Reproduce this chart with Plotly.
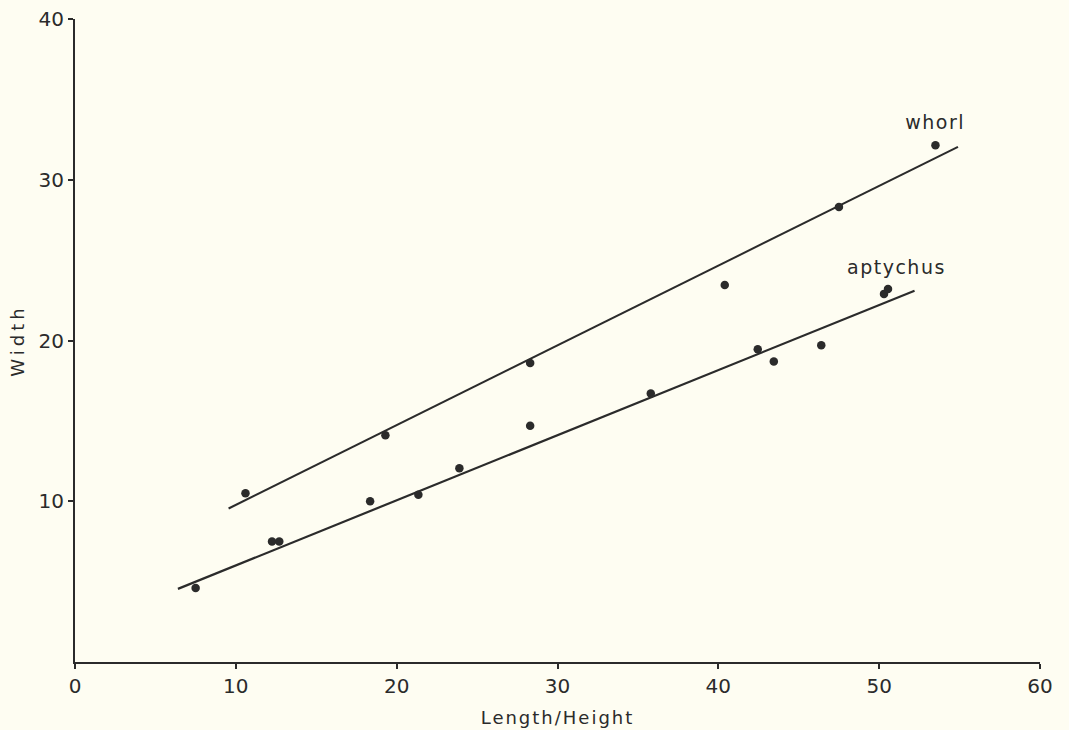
import plotly.graph_objects as go

# whorl data
whorl_x = [10.6, 19.3, 28.3, 40.4, 47.5, 53.5]
whorl_y = [10.5, 14.1, 18.6, 23.45, 28.3, 32.15]
# aptychus data
apt_x = [7.5, 12.25, 12.7, 18.35, 21.35, 23.9, 28.3, 35.8, 42.45, 43.45, 46.4, 50.3, 50.55]
apt_y = [4.6, 7.5, 7.5, 10.0, 10.4, 12.05, 14.7, 16.7, 19.45, 18.7, 19.7, 22.9, 23.2]
# fitted lines (endpoints)
whorl_line_x = [9.55, 54.9]
whorl_line_y = [9.55, 32.05]
apt_line_x = [6.4, 52.2]
apt_line_y = [4.55, 23.1]

x_ticks = [0, 10, 20, 30, 40, 50, 60]
y_ticks = [10, 20, 30, 40]

ink = "#2b2b2b"
bg = "#fefdf2"
font = "'DejaVu Sans', sans-serif"

fig = go.Figure()
fig.add_trace(go.Scatter(x=whorl_line_x, y=whorl_line_y, mode="lines",
                         line=dict(color=ink, width=2), showlegend=False))
fig.add_trace(go.Scatter(x=apt_line_x, y=apt_line_y, mode="lines",
                         line=dict(color=ink, width=2.2), showlegend=False))
fig.add_trace(go.Scatter(x=whorl_x, y=whorl_y, mode="markers",
                         marker=dict(color=ink, size=8.5), showlegend=False))
fig.add_trace(go.Scatter(x=apt_x, y=apt_y, mode="markers",
                         marker=dict(color=ink, size=8.5), showlegend=False))

fig.add_annotation(x=53.5, y=33.6, text="whorl", showarrow=False,
                   font=dict(family=font, size=19, color=ink))
fig.add_annotation(x=51.1, y=24.55, text="aptychus", showarrow=False,
                   font=dict(family=font, size=19, color=ink))

fig.update_layout(
    width=1069, height=730,
    margin=dict(l=75, r=29, t=19, b=68, autoexpand=False),
    paper_bgcolor=bg, plot_bgcolor=bg,
    font=dict(family=font, color=ink),
    xaxis=dict(range=[0, 60], tickvals=x_ticks, ticks="outside", ticklen=5,
               tickwidth=1.5, tickcolor=ink, showline=True, linecolor=ink,
               linewidth=2, showgrid=False, zeroline=False, automargin=False,
               tickfont=dict(size=20, family=font, color=ink),
               title=dict(text="Length/Height", font=dict(size=18, family=font, color=ink),
                          standoff=14)),
    yaxis=dict(range=[0, 40], tickvals=y_ticks, ticks="outside", ticklen=5,
               tickwidth=1.5, tickcolor=ink, showline=True, linecolor=ink,
               linewidth=2, showgrid=False, zeroline=False, automargin=False,
               tickfont=dict(size=20, family=font, color=ink),
               title=dict(text="Width", font=dict(size=18, family=font, color=ink),
                          standoff=9)),
)

css = (".xtitle{letter-spacing:2px;} .ytitle{letter-spacing:4px;} "
       ".annotation-text{letter-spacing:1.5px;}")
fig.write_html(
    "out.html",
    config={"displayModeBar": False},
    post_script=(
        "document.body.style.margin='0px';"
        "document.body.style.background='#fefdf2';"
        "var s=document.createElement('style');s.textContent='" + css + "';"
        "document.head.appendChild(s);"
    ),
)
